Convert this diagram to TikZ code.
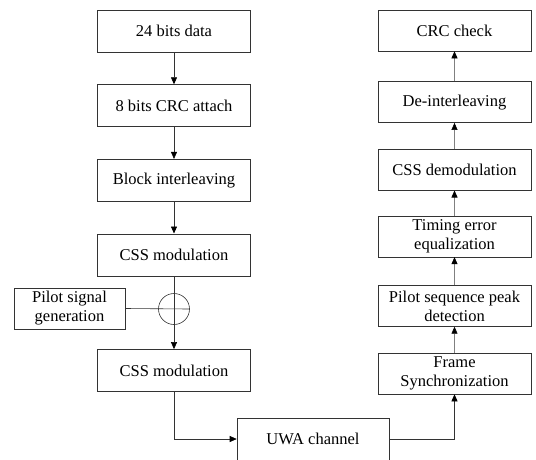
\documentclass[tikz,border=0pt]{standalone}
\usepackage{fontspec}
\setmainfont{Liberation Serif}
\usetikzlibrary{arrows.meta,positioning}

\begin{document}
\begin{tikzpicture}[
  blk/.style={draw=black!80, line width=0.6pt, minimum width=153pt, minimum height=42pt,
              inner sep=1pt, align=center, font=\fontsize{16.5}{19}\selectfont},
  rblk/.style={blk, minimum height=41pt},
  sumnode/.style={draw=black!80, line width=0.6pt, circle, minimum size=31pt, inner sep=0pt},
  arrow/.style={-{Triangle[length=7pt,width=6pt,color=black]}, line width=0.6pt, draw=black!80},
  uparrow/.style={arrow, draw=black!50}
]
\clip (0,0) rectangle (536pt,-459pt);
\useasboundingbox (0,0) rectangle (536pt,-459pt);

% transmitter
\node[blk] (data) at (174pt,-31pt) {24 bits data};
\node[blk, below=32pt of data] (crcadd) {8 bits CRC attach};
\node[blk, below=32pt of crcadd] (intlv) {Block interleaving};
\node[blk, below=32pt of intlv] (mod) {CSS modulation};
\node[sumnode] (sum) at (174pt,-309pt) {};
\node[blk, minimum width=111pt, minimum height=41pt] (pilot) at (69.5pt,-308.5pt) {Pilot signal\\generation};
\node[blk, below=73pt of mod] (mod2) {CSS modulation};

% channel
\node[blk, minimum width=152pt] (uwa) at (313pt,-439pt) {UWA channel};

% receiver
\node[rblk] (crcchk) at (454.5pt,-30.5pt) {CRC check};
\node[rblk, below=30pt of crcchk] (deint) {De-interleaving};
\node[rblk, below=26pt of deint] (demod) {CSS demodulation};
\node[rblk, below=25pt of demod] (timing) {Timing error\\equalization};
\node[rblk, below=28pt of timing] (peak) {Pilot sequence peak\\detection};
\node[rblk, below=26pt of peak] (frame) {Frame\\Synchronization};

\draw[arrow] (data) -- (crcadd);
\draw[arrow] (crcadd) -- (intlv);
\draw[arrow] (intlv) -- (mod);
\draw[arrow] (mod) -- (mod2);
\draw[draw=black!80, line width=0.6pt] (pilot.east) -- (sum.east);
\draw[arrow] (mod2.south) |- (uwa.west);
\draw[arrow] (uwa.east) -| (frame.south);

\draw[uparrow] (frame) -- (peak);
\draw[uparrow] (peak) -- (timing);
\draw[uparrow] (timing) -- (demod);
\draw[uparrow] (demod) -- (deint);
\draw[uparrow] (deint) -- (crcchk);
\end{tikzpicture}
\end{document}
